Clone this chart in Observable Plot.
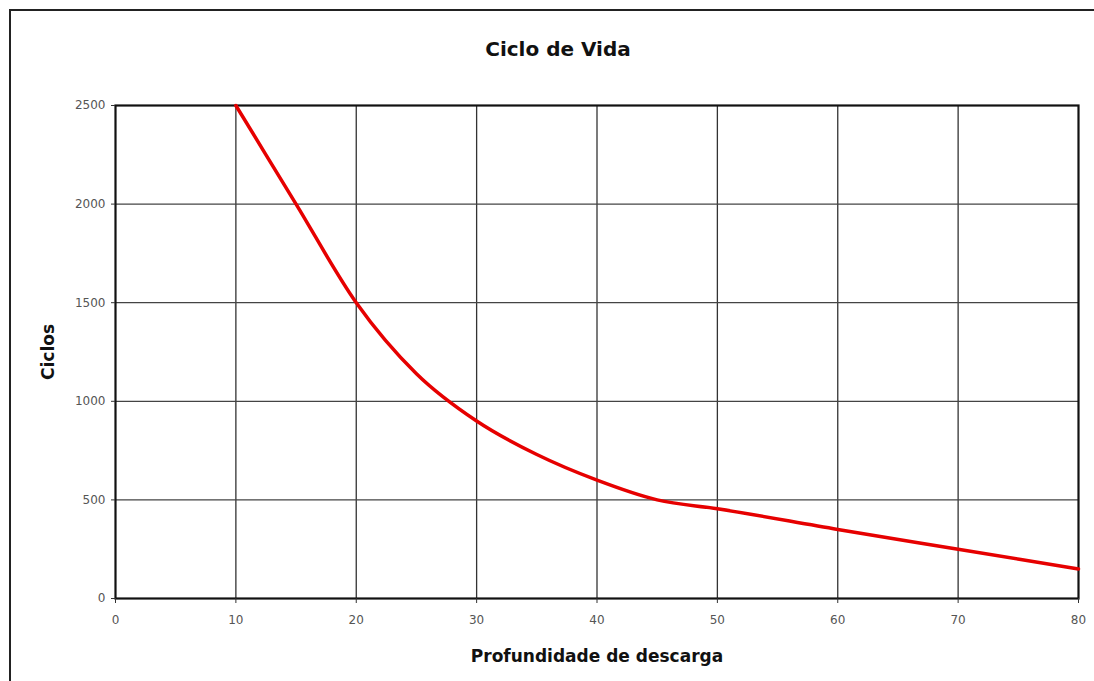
<!DOCTYPE html>
<html>
<head>
<meta charset="utf-8">
<script src="https://cdn.jsdelivr.net/npm/d3@7"></script>
<script src="https://cdn.jsdelivr.net/npm/@observablehq/plot@0.6"></script>
<style>
  html, body { margin: 0; padding: 0; background: #fff; }
  #wrap { position: relative; width: 1094px; height: 681px; overflow: hidden; }
  #frame { position: absolute; left: 9px; top: 9px; width: 1200px; height: 800px; border: 2.5px solid #222; box-sizing: border-box; pointer-events: none; }
  #title { height: 90px; box-sizing: border-box; padding-top: 37px; text-align: center; font-family: "DejaVu Sans", sans-serif; font-weight: bold; font-size: 20px; color: #111; padding-left: 22px; }
  #chart svg { display: block; }
</style>
</head>
<body>
<div id="wrap">
  <div id="frame"></div>
  <div id="title">Ciclo de Vida</div>
  <div id="chart"></div>
</div>
<script>
const depth = [10, 15, 20, 25, 30, 35, 40, 45, 50, 60, 70, 80];
const cycles = [2500, 2000, 1500, 1140, 900, 730, 600, 500, 455, 350, 250, 150];
const xTicks = [0, 10, 20, 30, 40, 50, 60, 70, 80];
const yTicks = [0, 500, 1000, 1500, 2000, 2500];

const data = depth.map((d, i) => ({depth: d, cycles: cycles[i]}));

const chart = Plot.plot({
  width: 1094,
  height: 591,
  marginLeft: 115,
  marginRight: 16,
  marginTop: 15,
  marginBottom: 83,
  style: {fontFamily: "DejaVu Sans, sans-serif", fontSize: "12px", color: "#555", background: "transparent"},
  x: {domain: [0, 80]},
  y: {domain: [0, 2500]},
  marks: [
    Plot.gridX(xTicks.slice(1, -1), {stroke: "#333", strokeOpacity: 1, strokeWidth: 1.3}),
    Plot.gridY(yTicks.slice(1, -1), {stroke: "#444", strokeOpacity: 1, strokeWidth: 1.3}),
    Plot.frame({stroke: "#111", strokeWidth: 2.2}),
    Plot.axisX(xTicks, {tickSize: 5, tickPadding: 12, stroke: "#333", tickFormat: d => String(d), label: "Profundidade de descarga", labelAnchor: "center", labelArrow: "none", labelOffset: 63}),
    Plot.axisY(yTicks, {tickSize: 4, tickPadding: 6, stroke: "#333", tickFormat: d => String(d), label: "Ciclos", labelAnchor: "center", labelArrow: "none", labelOffset: 74}),
    Plot.line(data, {x: "depth", y: "cycles", stroke: "#e60000", strokeWidth: 3.5, curve: "monotone-x"})
  ]
});
document.getElementById("chart").appendChild(chart);
// style axis labels (bold, larger, darker)
chart.querySelectorAll("[aria-label='x-axis label'] text, [aria-label='y-axis label'] text").forEach(t => {
  t.setAttribute("font-size", "17");
  t.setAttribute("font-weight", "bold");
  t.setAttribute("fill", "#111");
});
</script>
</body>
</html>
